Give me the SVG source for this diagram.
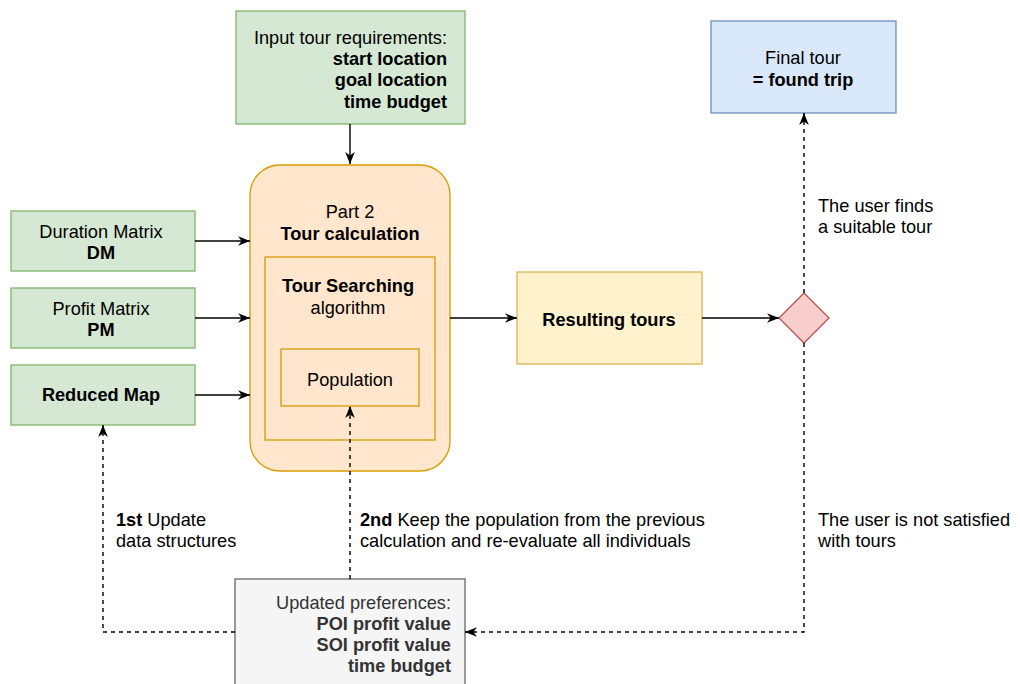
<svg xmlns="http://www.w3.org/2000/svg" width="1020" height="684" viewBox="0 0 1020 684">
<defs>
<marker id="arr" viewBox="0 0 10 10" refX="10" refY="5" markerWidth="12" markerHeight="12" markerUnits="userSpaceOnUse" orient="auto">
<path d="M0,1 L10,5 L0,9 L3,5 Z" fill="#000"/>
</marker>
<style>
text{font-family:"Liberation Sans",Arial,Helvetica,sans-serif;font-size:18.2px;fill:#000}
.b{font-weight:bold}
.c{text-anchor:middle}
.e{text-anchor:end}
.green{fill:#d5e8d4;stroke:#82b366;stroke-width:1.3}
.orange{fill:#ffe6cc;stroke:#d79b00;stroke-width:1.3}
.blue{fill:#dae8fc;stroke:#6c8ebf;stroke-width:1.3}
.yellow{fill:#fff2cc;stroke:#d6b656;stroke-width:1.3}
.red{fill:#f8cecc;stroke:#b85450;stroke-width:1.3}
.grey{fill:#f5f5f5;stroke:#666666;stroke-width:1.3}
.gt{fill:#333333}
.ln{fill:none;stroke:#000;stroke-width:1.4}
.d{stroke-dasharray:4 4}
</style>
</defs>
<rect width="1020" height="684" fill="#fff"/>

<g id="input">
<rect class="green" x="236" y="11" width="229" height="113"/>
<text class="e" x="447" y="44">Input tour requirements:</text>
<text class="e b" x="447" y="65">start location</text>
<text class="e b" x="447" y="86">goal location</text>
<text class="e b" x="447" y="108">time budget</text>
</g>

<g id="tourcalc">
<rect class="orange" x="250" y="165" width="200" height="306" rx="30" ry="30"/>
<text class="c" x="350" y="218">Part 2</text>
<text class="c b" x="350" y="240">Tour calculation</text>
</g>

<g id="searching">
<rect class="orange" x="265" y="257" width="170" height="183"/>
<text class="c b" x="348" y="292">Tour Searching</text>
<text class="c" x="348" y="314">algorithm</text>
</g>

<g id="population">
<rect class="orange" x="281" y="349" width="138" height="57"/>
<text class="c" x="350" y="386">Population</text>
</g>

<g id="dm">
<rect class="green" x="11" y="211" width="184" height="60"/>
<text class="c" x="101" y="238">Duration Matrix</text>
<text class="c b" x="101" y="259">DM</text>
</g>

<g id="pm">
<rect class="green" x="11" y="288" width="184" height="60"/>
<text class="c" x="101" y="315">Profit Matrix</text>
<text class="c b" x="101" y="336">PM</text>
</g>

<g id="map">
<rect class="green" x="11" y="365" width="184" height="60"/>
<text class="c b" x="101" y="401">Reduced Map</text>
</g>

<g id="results">
<rect class="yellow" x="517" y="272" width="185" height="92"/>
<text class="c b" x="609" y="326">Resulting tours</text>
</g>

<g id="decision">
<polygon class="red" points="804,293 829,318 804,343 779,318"/>
</g>

<g id="final">
<rect class="blue" x="711" y="21" width="185" height="92"/>
<text class="c" x="803" y="64">Final tour</text>
<text class="c b" x="803" y="86">= found trip</text>
</g>

<g id="updated">
<rect class="grey" x="235" y="579" width="230" height="112"/>
<text class="e gt" x="451" y="609">Updated preferences:</text>
<text class="e b gt" x="451" y="630">POI profit value</text>
<text class="e b gt" x="451" y="651">SOI profit value</text>
<text class="e b gt" x="451" y="672">time budget</text>
</g>

<g id="connectors">
<line class="ln" x1="350" y1="124" x2="350" y2="164" marker-end="url(#arr)"/>
<line class="ln" x1="195" y1="241" x2="250" y2="241" marker-end="url(#arr)"/>
<line class="ln" x1="195" y1="318" x2="250" y2="318" marker-end="url(#arr)"/>
<line class="ln" x1="195" y1="395" x2="250" y2="395" marker-end="url(#arr)"/>
<line class="ln" x1="450" y1="318" x2="517" y2="318" marker-end="url(#arr)"/>
<line class="ln" x1="702" y1="318" x2="779" y2="318" marker-end="url(#arr)"/>
<line class="ln d" x1="804" y1="293" x2="804" y2="113" marker-end="url(#arr)"/>
<polyline class="ln d" points="804,343 804,632 465,632" marker-end="url(#arr)"/>
<polyline class="ln d" points="235,632 103,632 103,425" marker-end="url(#arr)"/>
<line class="ln d" x1="350" y1="579" x2="350" y2="406" marker-end="url(#arr)"/>
</g>

<g id="labels">
<text x="818" y="212">The user finds</text>
<text x="818" y="233">a suitable tour</text>
<text x="818" y="526">The user is not satisfied</text>
<text x="818" y="547">with tours</text>
<text x="116" y="526"><tspan class="b">1st</tspan> Update</text>
<text x="116" y="547">data structures</text>
<text x="360" y="526"><tspan class="b">2nd</tspan> Keep the population from the previous</text>
<text x="360" y="547">calculation and re-evaluate all individuals</text>
</g>
</svg>
